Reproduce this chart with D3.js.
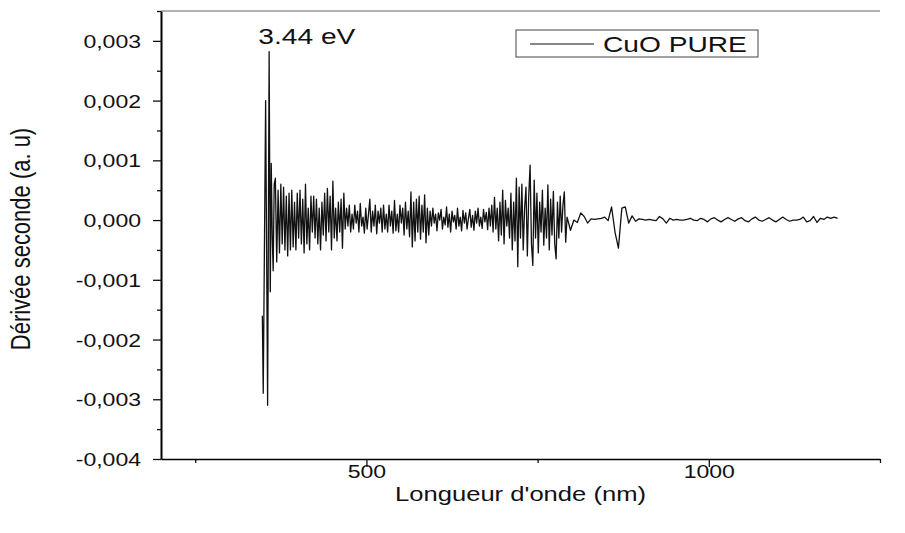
<!DOCTYPE html>
<html>
<head>
<meta charset="utf-8">
<script src="https://cdn.jsdelivr.net/npm/d3@7"></script>
<style>
  body { margin: 0; background: #fff; }
  svg { font-family: "Liberation Sans", Arial, sans-serif; }
</style>
</head>
<body>
<div id="chart"></div>
<script>
// values are in units of 1e-4 (a. u)
const unit = 1e-4;

// the steep edge around the gap (explicit wavelengths)
const spikeNm = [348, 349.3, 352.8, 355.7, 357.9, 359.6, 361, 362.5, 363.8, 365.3];
const spikeVal = [-16, -29, 20, -31, 28.2, -12, 9.5, -3, -8.5, 6];

// dense part, sampled every 2 nm from 367 nm
const denseStart = 367, denseStep = 2;
const denseVal = [
    7, -7, 5, -5.5, 6, -4, 5.5, -5, 4, -6,
    4.5, -5, 5, -4.5, 3, -5, 4.5, -3, 5, -4, 3.5, -5.5, 6, -4, 2, -5, 4,
    -2, 4, -3, 3.5, -4, 2, -5, 3, -2.5, 4.5, -3.5, 5.3, -2, 4, -5, 6.5, -3, 2,
    -3.5, 3, -2, 3.5, -4.7, 4.5, -1.5,
    2, -1, 2.5, -2, 1, -1.5, 2.5, -0.5, 1.5, -2, 2.8, -1, 0.5, -2.2, 2,
    -1.5, 1, 3.5, -2, 1.5, -1, 2.5, -2.3, 1.5, -0.5, 2, -2, 2.5, -1.5, 1,
    -2, 2.5, -1, 1.5, -2.2, 3.3, -1.8, 1, -2, 2.5, -0.5, 2, -2.5, 3, -1.5, 1.5, -2.8, 4.7,
    -4.5, 3, -3.5, 3.5, -2, 4, -3.2, 2.5, -2, 4.2, -3.8, 2, -2.5,
    1.5, -1, 2, -0.5, 1, -1.8, 1.2, 0, 1.8, -1.5, 0.5, -0.8, 2.2, -1.2, 1,
    -2, 1.5, -0.3, 0.8, -1.5, 2, -1, 0.5, -1.8, 1.6, -0.5, 1.2, -1.5, 0.3,
    1.8, -1.2, 0.8, -1.7, 1.5, -0.5, 2, -1, 0.5, -1.4, 1.8, -0.3, 1.3, -1.6, 2,
    -1, 2.5, -2, 3.8, -1.5, 2, -3.5, 3, -2.5, 5, -4, 3.3, -1, 2, -3,
    4.5, -5, 3, -3.5, 7, -7.8, 5.5, -3, 6, -5, 2, 5.5, -6, 4, 9.2, -4, -7.6, 6.7,
    -3, 4.5, -5.5, 3, -2, 5, -4.2, 2, -3, 5.9, -5, 3.5, -2.5, 4.8, -4, -6.5,
    3, -3, 4, -2, 2.5, 4.7, -3.7, 0.5
];

// sparse tail, every 5 nm from 798 nm
const tailStart = 798, tailStep = 5;
const tailVal = [
    -1.7, 0, -0.4, 1.2, 0.6, -0.5, 0.2, 0.1, 0.2, 0.3, 0.5, -0.1, 2.2, -2, -4.7,
    2, 2.2, -0.5, 0.7, -0.2, 0.2, 0.1, 0, 0.1, 0, -0.1, 0.6, 0.2, -0.5, 0.3,
    0, 0.1, 0, 0, 0.1, 0.3, 0, -0.1, 0.3, 0.1, -0.3,
    0.2, 0.4, 0, -0.3, 0.1, 0.4, 0.1, -0.2, 0.2, 0.4, -0.1, -0.3, 0.2, 0.5,
    0, -0.2, 0.1, 0.4, 0, -0.3, 0.1, 0.5, 0.1, -0.2, 0, 0, 0.1, 0.5, -0.3,
    -0.1, 0.6, -0.4, 0.3, 0.1, 0.5, 0.3, 0.5, 0.3
];

const yTicks = [-0.004, -0.003, -0.002, -0.001, 0, 0.001, 0.002, 0.003];
const yMinor = [-0.0035, -0.0025, -0.0015, -0.0005, 0.0005, 0.0015, 0.0025, 0.0035];
const xTicks = [500, 1000];
const xMinor = [250, 750, 1250];

const seriesName = "CuO PURE";
const peakLabel = "3.44 eV";

const points = [];
spikeNm.forEach((n, i) => points.push([n, spikeVal[i] * unit]));
denseVal.forEach((v, i) => points.push([denseStart + i * denseStep, v * unit]));
tailVal.forEach((v, i) => points.push([tailStart + i * tailStep, v * unit]));

const margin = { top: 11, right: 25, bottom: 74, left: 161 },
    width = 905 - margin.left - margin.right,
    height = 533 - margin.top - margin.bottom;

const stretch = 1.28;

const svg = d3.select("#chart")
    .append("svg")
    .attr("width", 905)
    .attr("height", 533)
    .append("g")
    .attr("transform", `translate(${margin.left},${margin.top})`);

const x = d3.scaleLinear().domain([200, 1250]).range([0, width]);
const y = d3.scaleLinear().domain([-0.004, 0.0035]).range([height, 0]);

// top frame line
svg.append("line")
    .attr("x1", 0).attr("x2", width)
    .attr("y1", 0).attr("y2", 0)
    .attr("stroke", "#9a9a9a")
    .attr("stroke-width", 1.5);

const fmt = d => d.toFixed(3).replace(".", ",");

// y axis
svg.append("g")
    .call(d3.axisLeft(y).tickValues(yMinor).tickSize(4).tickSizeOuter(0).tickFormat(""))
    .call(g => g.select(".domain").remove());

const yAxis = svg.append("g")
    .call(d3.axisLeft(y).tickValues(yTicks).tickSize(8).tickSizeOuter(0).tickFormat(fmt));
yAxis.select(".domain").attr("stroke-width", 2);
yAxis.selectAll("text")
    .attr("x", null)
    .attr("dy", "0.36em")
    .attr("font-size", 18)
    .attr("fill", "#111")
    .attr("transform", `translate(-20,0) scale(${stretch},1)`);

// x axis
svg.append("g")
    .attr("transform", `translate(0,${height})`)
    .call(d3.axisBottom(x).tickValues(xMinor).tickSize(4).tickSizeOuter(0).tickFormat(""))
    .call(g => g.select(".domain").remove());

const xAxis = svg.append("g")
    .attr("transform", `translate(0,${height})`)
    .call(d3.axisBottom(x).tickValues(xTicks).tickSize(8).tickSizeOuter(0).tickFormat(d3.format("d")));
xAxis.select(".domain").attr("stroke-width", 1.5);
xAxis.selectAll("text")
    .attr("y", null)
    .attr("dy", "0.36em")
    .attr("font-size", 18)
    .attr("fill", "#111")
    .attr("transform", `translate(0,13) scale(${stretch},1)`);

svg.selectAll(".tick line").attr("stroke", "#111").attr("stroke-width", 1.3);

// axis titles
svg.append("text")
    .attr("text-anchor", "middle")
    .attr("font-size", 20)
    .attr("fill", "#111")
    .attr("transform", `translate(${width / 2},${height + 42}) scale(${stretch},1)`)
    .text("Longueur d'onde (nm)");

svg.append("text")
    .attr("text-anchor", "middle")
    .attr("font-size", 22)
    .attr("fill", "#111")
    .attr("transform", `translate(${-131},${height / 2 + 4}) rotate(-90) scale(1,${stretch})`)
    .text("Dérivée seconde (a. u)");

// the curve
const line = d3.line()
    .x(d => x(d[0]))
    .y(d => y(d[1]));

svg.append("path")
    .datum(points)
    .attr("fill", "none")
    .attr("stroke", "#111")
    .attr("stroke-width", 1.3)
    .attr("stroke-linejoin", "round")
    .attr("d", line);

// peak annotation
svg.append("text")
    .attr("font-size", 22)
    .attr("fill", "#111")
    .attr("transform", `translate(${x(348) - 4},${33}) scale(${stretch},1)`)
    .text(peakLabel);

// legend
const legend = svg.append("g")
    .attr("transform", `translate(${516 - margin.left},${30 - margin.top})`);
legend.append("rect")
    .attr("width", 242).attr("height", 27)
    .attr("fill", "#fff")
    .attr("stroke", "#444")
    .attr("stroke-width", 1);
legend.append("line")
    .attr("x1", 14).attr("x2", 78)
    .attr("y1", 14).attr("y2", 14)
    .attr("stroke", "#111").attr("stroke-width", 1.2);
legend.append("text")
    .attr("x", 0).attr("y", 0)
    .attr("font-size", 22)
    .attr("fill", "#111")
    .attr("transform", `translate(87,22) scale(${stretch},1)`)
    .text(seriesName);
</script>
</body>
</html>
